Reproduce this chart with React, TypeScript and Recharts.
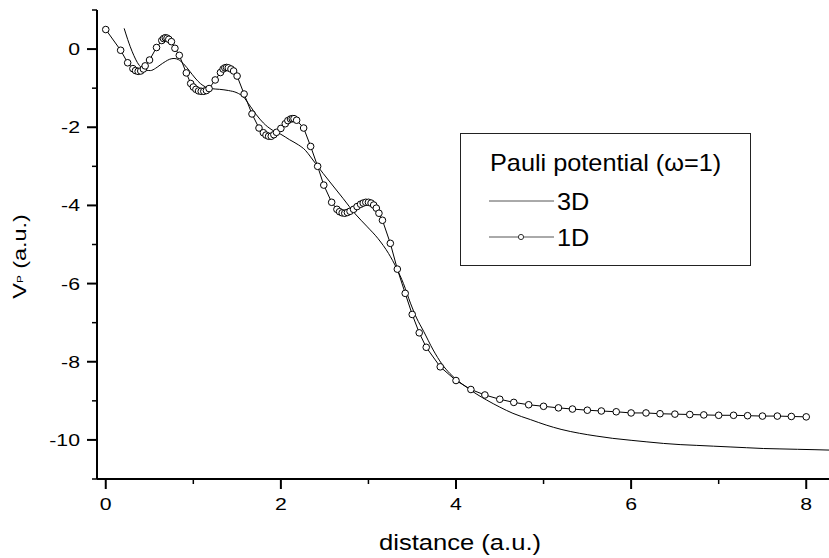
import React from "react";
import { LineChart, Line, XAxis, YAxis, Legend } from "recharts";

// 1D (open circles)
const x1D = [
  0, 0.17, 0.25, 0.31, 0.34, 0.37, 0.4, 0.43, 0.45, 0.5, 0.58, 0.64, 0.66, 0.68, 0.7, 0.72,
  0.75, 0.79, 0.84, 0.92, 0.97, 1.0, 1.03, 1.06, 1.09, 1.12, 1.15, 1.18, 1.25, 1.31, 1.34,
  1.36, 1.38, 1.4, 1.43, 1.46, 1.5, 1.58, 1.67, 1.75, 1.8, 1.83, 1.86, 1.89, 1.92, 1.95, 2.0,
  2.05, 2.08, 2.11, 2.13, 2.15, 2.18, 2.26, 2.34, 2.42, 2.49, 2.58, 2.64, 2.67, 2.7, 2.73,
  2.76, 2.79, 2.83, 2.87, 2.91, 2.94, 2.97, 3.0, 3.03, 3.06, 3.09, 3.12, 3.16, 3.25, 3.33,
  3.42, 3.5, 3.58, 3.66, 3.82, 4.0, 4.17, 4.33, 4.5, 4.66, 4.83, 5.0, 5.17, 5.33, 5.5, 5.66,
  5.83, 6.0, 6.17, 6.33, 6.5, 6.67, 6.83, 7.0, 7.17, 7.33, 7.5, 7.67, 7.83, 8.0,
];
const y1D = [
  0.5, -0.03, -0.35, -0.5, -0.55, -0.57, -0.56, -0.51, -0.43, -0.28, 0.04, 0.22, 0.27, 0.29,
  0.28, 0.25, 0.19, 0.02, -0.16, -0.61, -0.88, -0.97, -1.03, -1.07, -1.08, -1.08, -1.06,
  -1.01, -0.79, -0.6, -0.51, -0.48, -0.47, -0.48, -0.51, -0.56, -0.69, -1.15, -1.66, -2.02,
  -2.14, -2.2, -2.23, -2.23, -2.19, -2.13, -2.03, -1.91, -1.83, -1.79, -1.78, -1.78, -1.82,
  -2.02, -2.49, -3.0, -3.48, -3.92, -4.1, -4.16, -4.19, -4.2, -4.18, -4.15, -4.1, -4.03,
  -3.97, -3.94, -3.92, -3.92, -3.94, -3.99, -4.07, -4.2, -4.38, -4.97, -5.63, -6.25, -6.79,
  -7.26, -7.63, -8.13, -8.48, -8.71, -8.85, -8.96, -9.04, -9.1, -9.14, -9.18, -9.21, -9.24,
  -9.26, -9.28, -9.31, -9.31, -9.33, -9.34, -9.35, -9.36, -9.37, -9.37, -9.38, -9.39, -9.39,
  -9.4, -9.41,
];

// 3D (plain line)
const x3D = [
  0.21, 0.25, 0.28, 0.32, 0.36, 0.41, 0.46, 0.51, 0.57, 0.62, 0.68, 0.73, 0.78, 0.83, 0.89,
  0.96, 1.02, 1.08, 1.14, 1.2, 1.3, 1.4, 1.5, 1.57, 1.65, 1.72, 1.8, 1.9, 2.0, 2.1, 2.2, 2.28,
  2.34, 2.41, 2.56, 2.71, 2.85, 2.98, 3.11, 3.23, 3.32, 3.4, 3.48, 3.55, 3.63, 3.74, 3.84,
  3.93, 4.03, 4.12, 4.23, 4.35, 4.5, 4.65, 4.85, 5.03, 5.2, 5.41, 5.6, 5.79, 6.0, 6.18, 6.37,
  6.56, 6.75, 6.94, 7.13, 7.32, 7.51, 7.7, 7.9, 8.1, 8.26,
];
const y3D = [
  0.53, 0.25, 0.06, -0.16, -0.34, -0.48, -0.54, -0.55, -0.49, -0.41, -0.32, -0.26, -0.24,
  -0.27, -0.38, -0.57, -0.74, -0.88, -0.97, -1.01, -1.03, -1.06, -1.12, -1.22, -1.46, -1.68,
  -1.89, -2.07, -2.18, -2.32, -2.45, -2.59, -2.76, -2.97, -3.4, -3.82, -4.22, -4.53, -4.85,
  -5.23, -5.6, -6.0, -6.5, -6.88, -7.22, -7.7, -8.06, -8.3, -8.5, -8.65, -8.82, -8.98, -9.16,
  -9.32, -9.48, -9.62, -9.73, -9.83, -9.9, -9.96, -10.01, -10.05, -10.09, -10.12, -10.14,
  -10.16, -10.18, -10.2, -10.22, -10.23, -10.24, -10.25, -10.26,
];

const xTicks = [0, 1, 2, 3, 4, 5, 6, 7, 8];
const yTicks = [1, 0, -1, -2, -3, -4, -5, -6, -7, -8, -9, -10, -11];
const seriesNames = ["3D", "1D"];
const legendTitle = "Pauli potential (\u03c9=1)";

const data1D = x1D.map((x, i) => ({ x, y: y1D[i] }));
const data3D = x3D.map((x, i) => ({ x, y: y3D[i] }));

const FONT = '"Liberation Sans", Arial, Helvetica, sans-serif';

function XTick(props: any) {
  const { x, y, payload } = props;
  const major = payload.value % 2 === 0;
  return (
    <g>
      <line x1={x} y1={y} x2={x} y2={y + (major ? 10 : 5)} stroke="#000" strokeWidth={major ? 2 : 1.5} />
      {major && (
        <text
          transform={`translate(${x},${y + 31}) scale(1.25,1)`}
          textAnchor="middle"
          fontSize={17}
          fontFamily={FONT}
          fill="#000"
        >
          {payload.value}
        </text>
      )}
    </g>
  );
}

function YTick(props: any) {
  const { x, y, payload } = props;
  const major = payload.value % 2 === 0;
  return (
    <g>
      <line x1={x} y1={y} x2={x - (major ? 10 : 5)} y2={y} stroke="#000" strokeWidth={major ? 2 : 1.5} />
      {major && (
        <text
          transform={`translate(${x - 17},${y + 6}) scale(1.25,1)`}
          textAnchor="end"
          fontSize={17}
          fontFamily={FONT}
          fill="#000"
        >
          {payload.value}
        </text>
      )}
    </g>
  );
}

function XTitle(props: any) {
  const vb = props.viewBox;
  const cx = vb.x + vb.width / 2 - 3;
  return (
    <text transform={`translate(${cx},${vb.y + 71}) scale(1.19,1)`} textAnchor="middle" fontSize={21.5} fontFamily={FONT} fill="#000">
      distance (a.u.)
    </text>
  );
}

function YTitle(props: any) {
  const vb = props.viewBox;
  const cy = vb.y + vb.height / 2 + 12;
  return (
    <text
      transform={`translate(${vb.x + 26},${cy}) rotate(-90) scale(1.3,1)`}
      textAnchor="middle"
      fontSize={18}
      fontFamily={FONT}
      fill="#000"
    >
      V
      <tspan fontSize={9} dy={-3}>P</tspan>
      <tspan dy={3}> (a.u.)</tspan>
    </text>
  );
}

function LegendBox() {
  return (
    <div style={{ width: 291, height: 133, border: "1px solid #222", boxSizing: "border-box", background: "#fff" }}>
      <svg width={289} height={131} style={{ display: "block" }}>
        <text transform="translate(29,37) scale(1.1,1)" fontSize={23} fontFamily={FONT} fill="#000">
          {legendTitle}
        </text>
        {seriesNames.map((name, i) => {
          const ly = 67 + i * 36;
          return (
            <g key={name}>
              <line x1={28} y1={ly} x2={93} y2={ly} stroke="#555" strokeWidth={1} />
              {name === "1D" && <circle cx={60} cy={ly} r={2.6} fill="#fff" stroke="#333" strokeWidth={1} />}
              <text transform={`translate(96,${ly + 9}) scale(1.1,1)`} fontSize={23} fontFamily={FONT} fill="#000">
                {name}
              </text>
            </g>
          );
        })}
      </svg>
    </div>
  );
}

export default function App() {
  return (
    <div style={{ width: 829, height: 558, background: "#fff" }}>
      <style>{"body{margin:0;background:#fff}"}</style>
      <LineChart width={829} height={558} margin={{ top: 10, right: 0, bottom: 0, left: 0 }}>
        <XAxis
          type="number"
          dataKey="x"
          domain={[-0.1, 8.26]}
          ticks={xTicks}
          interval={0}
          tick={<XTick />}
          tickLine={false}
          tickSize={0}
          tickMargin={0}
          axisLine={{ stroke: "#000", strokeWidth: 2 }}
          height={79}
          allowDataOverflow
          label={{ content: (p: any) => <XTitle {...p} /> }}
        />
        <YAxis
          type="number"
          dataKey="y"
          domain={[-11, 1]}
          ticks={yTicks}
          interval={0}
          tick={<YTick />}
          tickLine={false}
          tickSize={0}
          tickMargin={0}
          axisLine={{ stroke: "#000", strokeWidth: 2 }}
          width={97}
          allowDataOverflow
          label={{ content: (p: any) => <YTitle {...p} /> }}
        />
        <Legend
          layout="horizontal"
          verticalAlign="middle"
          align="center"
          content={<LegendBox />}
          wrapperStyle={{ position: "absolute", left: 460, top: 133, width: 291, height: 133, margin: 0 }}
        />
        <Line
          data={data3D}
          dataKey="y"
          name="3D"
          type="monotone"
          stroke="#000"
          strokeWidth={1}
          dot={false}
          activeDot={false}
          isAnimationActive={false}
        />
        <Line
          data={data1D}
          dataKey="y"
          name="1D"
          type="linear"
          stroke="#000"
          strokeWidth={1}
          dot={{ r: 3.3, fill: "#fff", stroke: "#000", strokeWidth: 1 }}
          activeDot={false}
          isAnimationActive={false}
        />
      </LineChart>
    </div>
  );
}
